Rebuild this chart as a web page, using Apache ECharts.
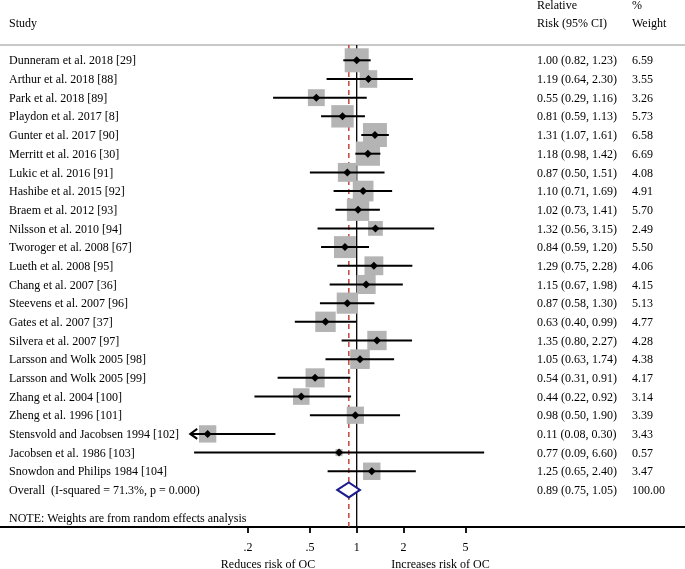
<!DOCTYPE html>
<html><head><meta charset="utf-8">
<script src="https://cdn.jsdelivr.net/npm/echarts@6/dist/echarts.min.js"></script>
<style>html,body{margin:0;padding:0;background:#fff}#c{width:685px;height:569px}</style>
</head><body><div id="c"></div>
<script>
// ---------- data ----------
const studies = [
  'Dunneram et al. 2018 [29]','Arthur et al. 2018 [88]','Park et al. 2018 [89]','Playdon et al. 2017 [8]',
  'Gunter et al. 2017 [90]','Merritt et al. 2016 [30]','Lukic et al. 2016 [91]','Hashibe et al. 2015 [92]',
  'Braem et al. 2012 [93]','Nilsson et al. 2010 [94]','Tworoger et al. 2008 [67]','Lueth et al. 2008 [95]',
  'Chang et al. 2007 [36]','Steevens et al. 2007 [96]','Gates et al. 2007 [37]','Silvera et al. 2007 [97]',
  'Larsson and Wolk 2005 [98]','Larsson and Wolk 2005 [99]','Zhang et al. 2004 [100]','Zheng et al. 1996 [101]',
  'Stensvold and Jacobsen 1994 [102]','Jacobsen et al. 1986 [103]','Snowdon and Philips 1984 [104]'
];
const rr     = [1.00,1.19,0.55,0.81,1.31,1.18,0.87,1.10,1.02,1.32,0.84,1.29,1.15,0.87,0.63,1.35,1.05,0.54,0.44,0.98,0.11,0.77,1.25];
const lower  = [0.82,0.64,0.29,0.59,1.07,0.98,0.50,0.71,0.73,0.56,0.59,0.75,0.67,0.58,0.40,0.80,0.63,0.31,0.22,0.50,0.08,0.09,0.65];
const upper  = [1.23,2.30,1.16,1.13,1.61,1.42,1.51,1.69,1.41,3.15,1.20,2.28,1.98,1.30,0.99,2.27,1.74,0.91,0.92,1.90,0.30,6.60,2.40];
const weights= [6.59,3.55,3.26,5.73,6.58,6.69,4.08,4.91,5.70,2.49,5.50,4.06,4.15,5.13,4.77,4.28,4.38,4.17,3.14,3.39,3.43,0.57,3.47];
const overallLabel = 'Overall  (I-squared = 71.3%, p = 0.000)';
const overallRR = 0.89, overallLower = 0.75, overallUpper = 1.05, overallWeight = 100.00;
const noteText = 'NOTE: Weights are from random effects analysis';
const tickValues = [0.2, 0.5, 1, 2, 5];
const tickLabels = ['.2', '.5', '1', '2', '5'];
const nullValue = 1;
const displayMin = 0.085; // CI below this is drawn with an arrow

// ---------- layout ----------
const L = Math.log10;
const FONT = '"Liberation Serif", "Times New Roman", serif';
const PX_PER_DEC = 155.5, X_ONE = 356.7, W = 685;
const ROW0 = 60.3, STEP = 18.68, TOP = 45, BOT = 527;
const yMin = (TOP - ROW0) / STEP, yMax = (BOT - ROW0) / STEP;
const xMin = -X_ONE / PX_PER_DEC, xMax = (W - X_ONE) / PX_PER_DEC;
const BOX_K = 9.35;
const COL_STUDY = 9, COL_RR = 537, COL_W = 632;
const overallRow = studies.length, noteRow = studies.length + 1.5;

const studyData = studies.map((s, i) => [i, L(rr[i]), L(Math.max(lower[i], displayMin)), L(upper[i]), weights[i], lower[i] < displayMin ? 1 : 0]);
const fmtCI = (r, lo, hi) => r.toFixed(2) + ' (' + lo.toFixed(2) + ', ' + hi.toFixed(2) + ')';
const TEXT_ROWS = studies.map((s, i) => [i, s, fmtCI(rr[i], lower[i], upper[i]), weights[i].toFixed(2)])
  .concat([[overallRow, overallLabel, fmtCI(overallRR, overallLower, overallUpper), overallWeight.toFixed(2)],
           [noteRow, noteText, '', '']]);

function txt(x, y, text, align) {
  return {type: 'text', x: x, y: y, style: {text: text, fill: '#000', font: '12px ' + FONT, align: align || 'left', verticalAlign: 'middle'}};
}

const chart = echarts.init(document.getElementById('c'), null, {renderer: 'canvas'});
chart.setOption({
  animation: false,
  backgroundColor: '#fff',
  grid: {left: 0, right: 0, top: TOP, bottom: 569 - BOT, containLabel: false},
  xAxis: [{
    type: 'value', min: xMin, max: xMax, position: 'bottom',
    axisLine: {show: true, onZero: false, lineStyle: {color: '#000', width: 2}},
    axisTick: {show: true, customValues: tickValues.map(L), length: 6, lineStyle: {color: '#000', width: 1.8}},
    axisLabel: {show: true, customValues: tickValues.map(L), margin: 15, color: '#000', fontFamily: FONT, fontSize: 12,
      formatter: v => { const k = tickValues.findIndex(t => Math.abs(L(t) - v) < 1e-6); return k >= 0 ? tickLabels[k] : ''; }},
    splitLine: {show: false}
  }, {
    type: 'value', min: 0, max: 1, position: 'top',
    axisLine: {show: true, onZero: false, lineStyle: {color: '#c8c8c8', width: 2}},
    axisTick: {show: false}, axisLabel: {show: false}, splitLine: {show: false}
  }],
  yAxis: {type: 'value', inverse: true, min: yMin, max: yMax, show: false},
  graphic: [
    txt(COL_STUDY, 24, 'Study'),
    txt(COL_RR, 6, 'Relative'), txt(COL_RR, 24, 'Risk (95% CI)'),
    txt(COL_W, 6, '%'), txt(COL_W, 24, 'Weight'),
    txt(268, 565, 'Reduces risk of OC', 'center'),
    txt(440.5, 565, 'Increases risk of OC', 'center')
  ],
  series: [
    { // reference lines
      type: 'custom', z: 1,
      data: [[L(nullValue), 0], [L(overallRR), 1]],
      renderItem: (p, api) => {
        const a = api.coord([api.value(0), yMin]), b = api.coord([api.value(0), yMax]);
        const dashed = api.value(1) === 1;
        return {type: 'line', shape: {x1: a[0], y1: a[1], x2: b[0], y2: b[1]},
          style: {stroke: dashed ? '#c0392b' : '#000', lineWidth: dashed ? 1.4 : 1.3, lineDash: dashed ? [5, 4] : null}};
      }
    },
    { // weight boxes
      type: 'custom', z: 2, data: studyData,
      renderItem: (p, api) => {
        const c = api.coord([api.value(1), api.value(0)]);
        const s = BOX_K * Math.sqrt(api.value(4));
        return {type: 'rect', shape: {x: c[0] - s / 2, y: c[1] - s / 2, width: s, height: s}, style: {fill: '#b4b4b4'}};
      }
    },
    { // CI lines + point markers
      type: 'custom', z: 3, data: studyData,
      renderItem: (p, api) => {
        const c = api.coord([api.value(1), api.value(0)]);
        const lo = api.coord([api.value(2), api.value(0)]);
        const hi = api.coord([api.value(3), api.value(0)]);
        const ch = [
          {type: 'line', shape: {x1: lo[0], y1: lo[1], x2: hi[0], y2: hi[1]}, style: {stroke: '#000', lineWidth: 2}},
          {type: 'polygon', shape: {points: [[c[0] - 4, c[1]], [c[0], c[1] - 4], [c[0] + 4, c[1]], [c[0], c[1] + 4]]}, style: {fill: '#000'}}
        ];
        if (api.value(5) === 1) {
          ch.push({type: 'polyline', shape: {points: [[lo[0] + 7, lo[1] - 5], [lo[0], lo[1]], [lo[0] + 7, lo[1] + 5]]}, style: {stroke: '#000', lineWidth: 2, fill: null}});
        }
        return {type: 'group', children: ch};
      }
    },
    { // overall diamond
      type: 'custom', z: 3, data: [[overallRow, L(overallRR), L(overallLower), L(overallUpper)]],
      renderItem: (p, api) => {
        const y = api.value(0);
        const c = api.coord([api.value(1), y]), lo = api.coord([api.value(2), y]), hi = api.coord([api.value(3), y]);
        return {type: 'polygon', shape: {points: [[lo[0], c[1]], [c[0], c[1] - 7.5], [hi[0], c[1]], [c[0], c[1] + 7.5]]},
          style: {stroke: '#1c1c8c', lineWidth: 2, fill: '#fff'}};
      }
    },
    { // text columns
      type: 'custom', z: 4,
      data: TEXT_ROWS.map(r => [r[0]]),
      renderItem: (p, api) => {
        const rec = TEXT_ROWS[p.dataIndex];
        const y = api.coord([0, api.value(0)])[1] + 1;
        return {type: 'group', children: [txt(COL_STUDY, y, rec[1]), txt(COL_RR, y, rec[2]), txt(COL_W, y, rec[3])]};
      }
    }
  ]
});
</script>
</body></html>
